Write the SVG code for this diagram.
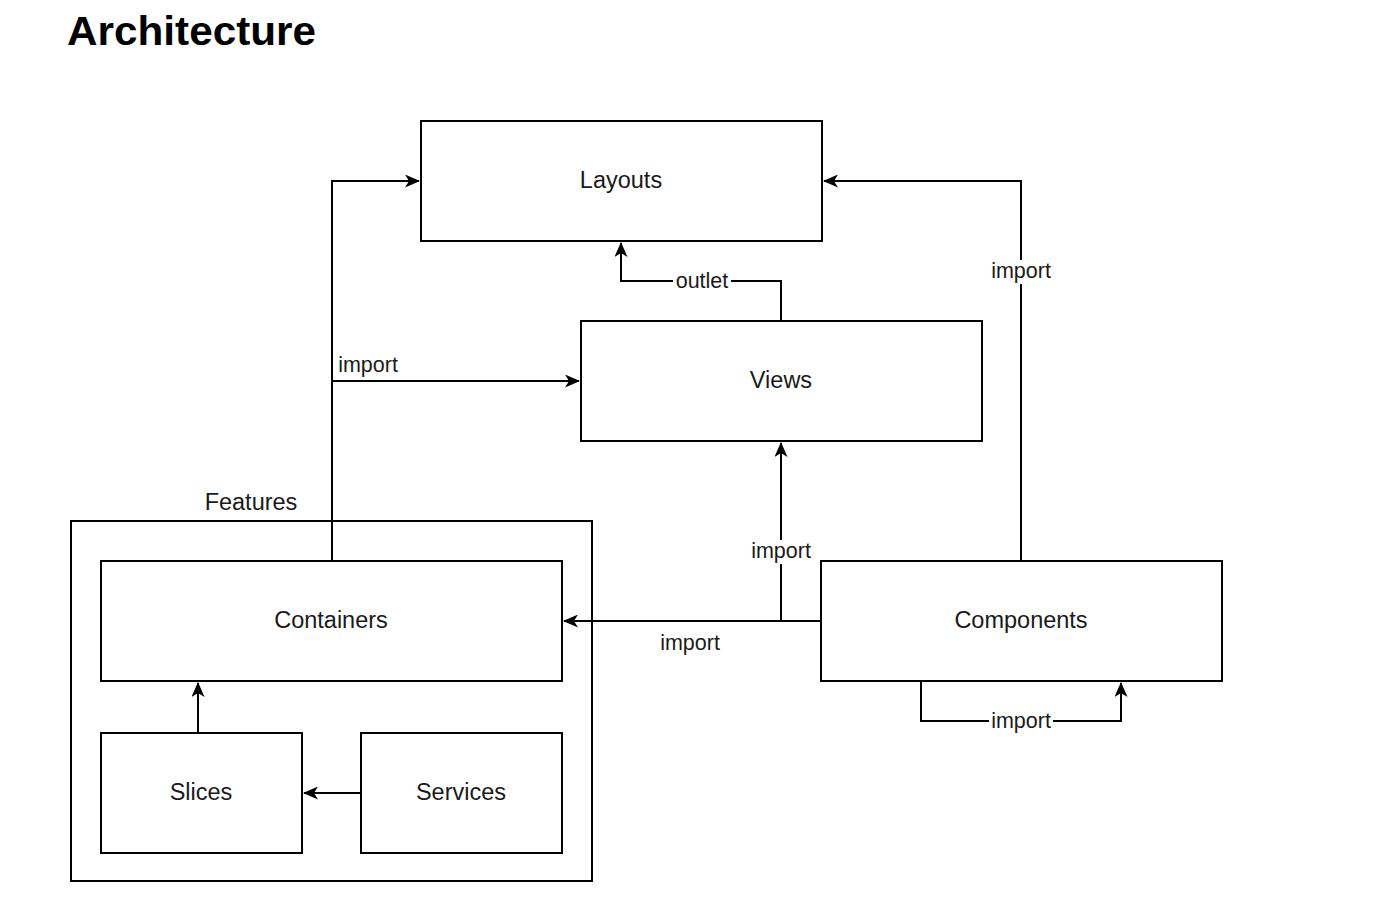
<svg xmlns="http://www.w3.org/2000/svg" width="1380" height="919" viewBox="0 0 1380 919">
<style>
.box{fill:#fff;stroke:#000;stroke-width:2}
.lbl{font-family:"Liberation Sans",Arial,sans-serif;font-size:23.5px;fill:#1a1a1a;text-anchor:middle}
.elbl{font-family:"Liberation Sans",Arial,sans-serif;font-size:21.5px;fill:#1a1a1a;text-anchor:middle}
.edge{fill:none;stroke:#000;stroke-width:2}
.bg{fill:#fff;stroke:none}
</style>
<defs>
<marker id="arr" markerUnits="userSpaceOnUse" markerWidth="15" markerHeight="13" viewBox="0 0 15 13" refX="14" refY="6.5" orient="auto">
<path d="M0,0 L15,6.5 L0,13 L4,6.5 Z" fill="#000"/>
</marker>
</defs>
<rect width="1380" height="919" fill="#fff"/>
<text x="67" y="45" font-family="Liberation Sans,Arial,sans-serif" font-weight="bold" font-size="40" fill="#000" textLength="249" lengthAdjust="spacingAndGlyphs">Architecture</text>

<g id="features">
<rect class="box" x="71" y="521" width="521" height="360"/>
<text class="lbl" x="251" y="510">Features</text>
</g>

<g id="connectors">
<path class="edge" d="M332,561 V181 H419" marker-end="url(#arr)"/>
<path class="edge" d="M332,381 H579" marker-end="url(#arr)"/>
<path class="edge" d="M781,321 V281 H621 V243" marker-end="url(#arr)"/>
<path class="edge" d="M821,621 H564" marker-end="url(#arr)"/>
<path class="edge" d="M781,621 V443" marker-end="url(#arr)"/>
<path class="edge" d="M1021,561 V181 H824" marker-end="url(#arr)"/>
<path class="edge" d="M921,681 V721 H1121 V683" marker-end="url(#arr)"/>
<path class="edge" d="M198,733 V683" marker-end="url(#arr)"/>
<path class="edge" d="M361,793 H304" marker-end="url(#arr)"/>
<rect class="bg" x="673" y="270" width="58" height="22"/>
<text class="elbl" x="702" y="288">outlet</text>
<text class="elbl" x="368" y="372">import</text>
<rect class="bg" x="989" y="260" width="64" height="24"/>
<text class="elbl" x="1021" y="278">import</text>
<rect class="bg" x="749" y="540" width="64" height="24"/>
<text class="elbl" x="781" y="558">import</text>
<text class="elbl" x="690" y="650">import</text>
<rect class="bg" x="989" y="710" width="64" height="24"/>
<text class="elbl" x="1021" y="728">import</text>
</g>

<g id="layouts">
<rect class="box" x="421" y="121" width="401" height="120"/>
<text class="lbl" x="621" y="188">Layouts</text>
</g>
<g id="views">
<rect class="box" x="581" y="321" width="401" height="120"/>
<text class="lbl" x="781" y="388">Views</text>
</g>
<g id="components">
<rect class="box" x="821" y="561" width="401" height="120"/>
<text class="lbl" x="1021" y="628">Components</text>
</g>
<g id="containers">
<rect class="box" x="101" y="561" width="461" height="120"/>
<text class="lbl" x="331" y="628">Containers</text>
</g>
<g id="slices">
<rect class="box" x="101" y="733" width="201" height="120"/>
<text class="lbl" x="201" y="800">Slices</text>
</g>
<g id="services">
<rect class="box" x="361" y="733" width="201" height="120"/>
<text class="lbl" x="461" y="800">Services</text>
</g>
</svg>
